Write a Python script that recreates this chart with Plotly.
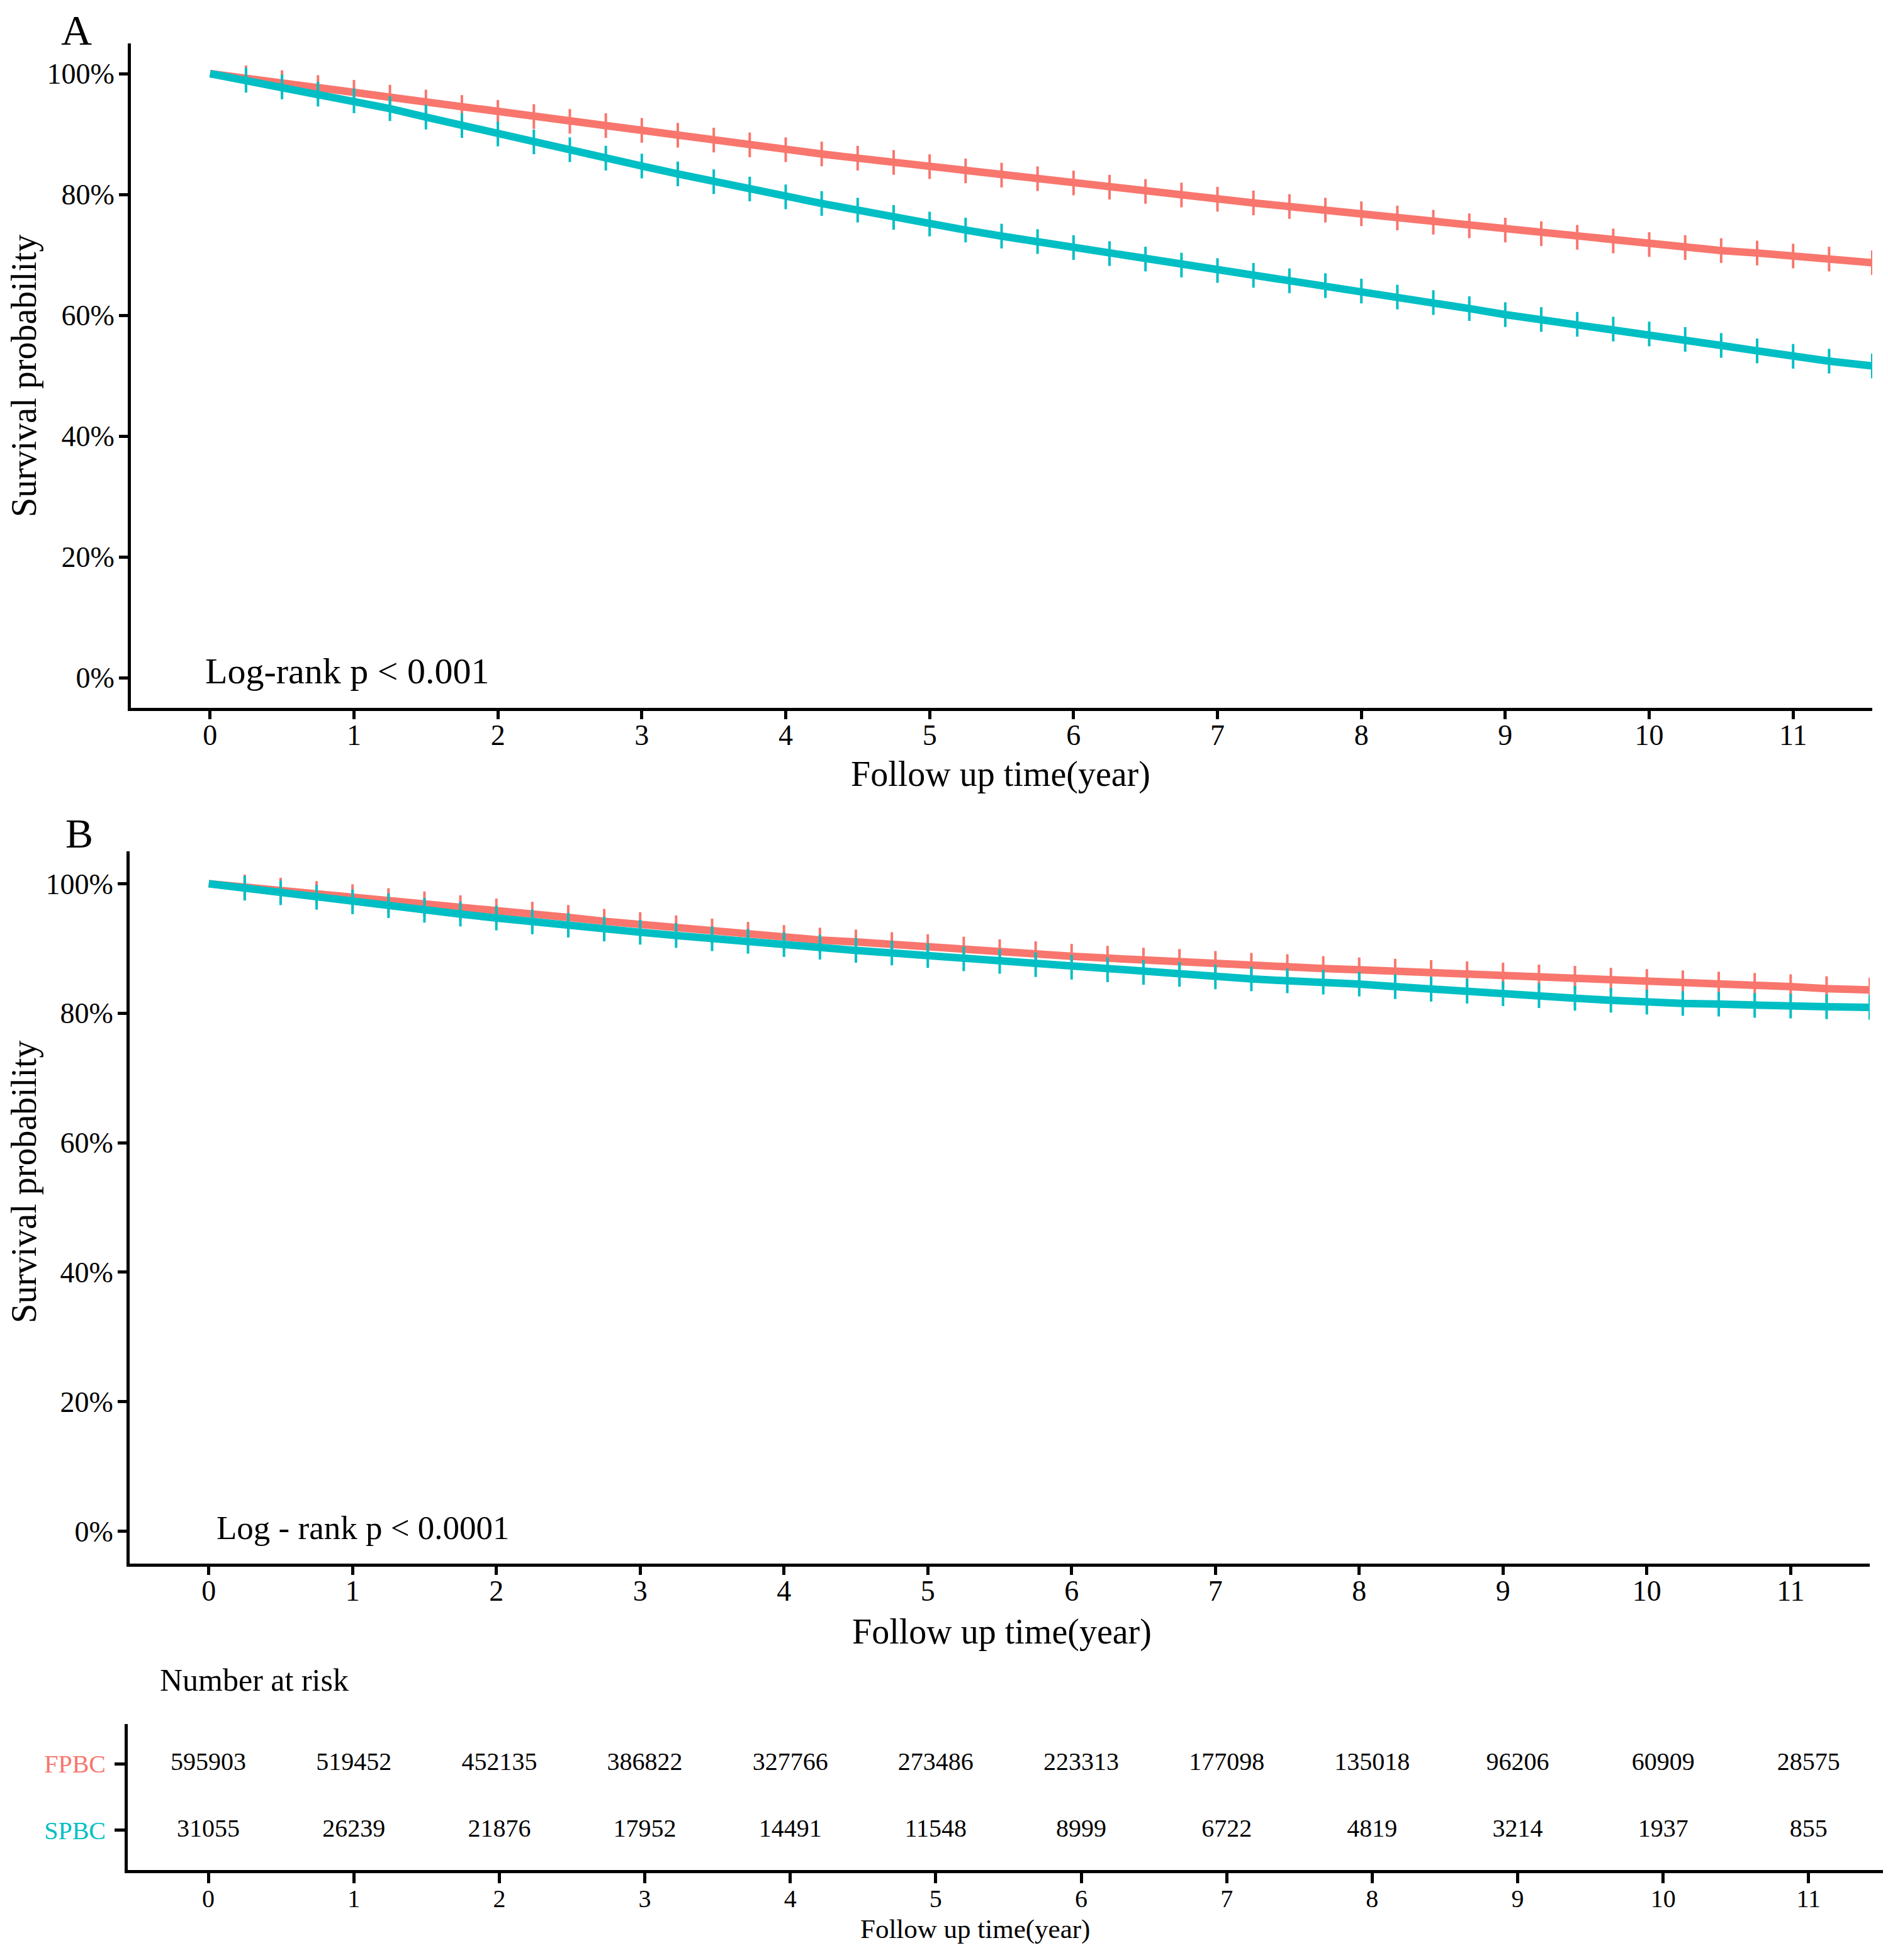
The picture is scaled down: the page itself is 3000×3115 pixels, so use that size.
import plotly.graph_objects as go

# ---------------- data ----------------
times = [0, 0.25, 0.5, 0.75, 1, 1.25, 1.5, 1.75, 2, 2.25, 2.5, 2.75, 3, 3.25, 3.5, 3.75,
         4, 4.25, 4.5, 4.75, 5, 5.25, 5.5, 5.75, 6, 6.25, 6.5, 6.75, 7, 7.25, 7.5, 7.75,
         8, 8.25, 8.5, 8.75, 9, 9.25, 9.5, 9.75, 10, 10.25, 10.5, 10.75, 11, 11.25, 11.55]

# Panel A (%)
a_fpbc = [100, 99.3, 98.5, 97.7, 96.9, 96.1, 95.3, 94.4, 93.6, 92.9, 92.1, 91.4, 90.6, 89.8, 89.0, 88.2,
          87.4, 86.7, 86.0, 85.3, 84.6, 83.9, 83.2, 82.6, 81.9, 81.2, 80.5, 79.9, 79.2, 78.6, 78.0, 77.4,
          76.8, 76.1, 75.4, 74.8, 74.1, 73.5, 72.9, 72.3, 71.7, 71.2, 70.7, 70.3, 69.8, 69.3, 68.7]
a_spbc = [100, 98.9, 97.8, 96.6, 95.5, 94.2, 92.8, 91.4, 90.0, 88.7, 87.4, 86.0, 84.7, 83.4, 82.1, 80.9,
          79.6, 78.5, 77.4, 76.2, 75.1, 74.1, 73.1, 72.2, 71.2, 70.2, 69.3, 68.3, 67.4, 66.6, 65.7, 64.9,
          64.0, 63.0, 62.1, 61.1, 60.1, 59.3, 58.5, 57.7, 56.9, 56.0, 55.0, 54.1, 53.2, 52.4, 51.6]

# Panel B (%)
b_fpbc = [100, 99.5, 99.0, 98.5, 98.0, 97.4, 96.9, 96.3, 95.8, 95.3, 94.8, 94.2, 93.7, 93.2, 92.7, 92.2,
          91.7, 91.3, 91.0, 90.6, 90.3, 89.9, 89.5, 89.2, 88.8, 88.5, 88.2, 88.0, 87.7, 87.4, 87.2, 86.9,
          86.7, 86.5, 86.3, 86.1, 85.9, 85.6, 85.4, 85.1, 84.9, 84.7, 84.5, 84.3, 84.1, 83.8, 83.6]
b_spbc = [100, 99.3, 98.6, 97.9, 97.2, 96.6, 95.9, 95.3, 94.7, 94.1, 93.6, 93.0, 92.5, 92.0, 91.5, 91.1,
          90.6, 90.2, 89.7, 89.3, 88.9, 88.4, 88.0, 87.5, 87.1, 86.7, 86.3, 86.0, 85.6, 85.3, 85.0, 84.8,
          84.5, 84.1, 83.7, 83.4, 83.0, 82.7, 82.3, 82.0, 81.7, 81.5, 81.4, 81.2, 81.1, 81.0, 80.9]

year_ticks = [0, 1, 2, 3, 4, 5, 6, 7, 8, 9, 10, 11]
pct_ticks = [0, 20, 40, 60, 80, 100]
pct_labels = ["0%", "20%", "40%", "60%", "80%", "100%"]

risk_fpbc = [595903, 519452, 452135, 386822, 327766, 273486, 223313, 177098, 135018, 96206, 60909, 28575]
risk_spbc = [31055, 26239, 21876, 17952, 14491, 11548, 8999, 6722, 4819, 3214, 1937, 855]

groups = ["FPBC", "SPBC"]
RED = "#F8766D"
TEAL = "#00BFC4"

FONT = "Liberation Serif"
W, H = 3000, 3115
OFF = 8  # page body margin


def px(x):
    return (x - OFF) / W


def py(y):
    return 1 - (y - OFF) / H


fig = go.Figure()


def add_curve(x, y, color, xa, ya, name):
    fig.add_trace(go.Scatter(x=x, y=y, mode="lines", line=dict(color=color, width=12),
                             xaxis=xa, yaxis=ya, name=name, showlegend=False))
    fig.add_trace(go.Scatter(x=x[1:], y=y[1:], mode="markers",
                             marker=dict(symbol="line-ns", size=28,
                                         line=dict(color=color, width=4)),
                             xaxis=xa, yaxis=ya, showlegend=False))


add_curve(times, a_fpbc, RED, "x", "y", groups[0])
add_curve(times, a_spbc, TEAL, "x", "y", groups[1])
add_curve(times, b_fpbc, RED, "x2", "y2", groups[0])
add_curve(times, b_spbc, TEAL, "x2", "y2", groups[1])

# risk table
fig.add_trace(go.Scatter(x=year_ticks, y=[2] * len(year_ticks), mode="text",
                         text=[str(v) for v in risk_fpbc],
                         textfont=dict(family=FONT, size=40, color="black"),
                         xaxis="x3", yaxis="y3", showlegend=False))
fig.add_trace(go.Scatter(x=year_ticks, y=[1] * len(year_ticks), mode="text",
                         text=[str(v) for v in risk_spbc],
                         textfont=dict(family=FONT, size=40, color="black"),
                         xaxis="x3", yaxis="y3", showlegend=False))

axis_common = dict(showline=True, linecolor="black", linewidth=5, ticks="outside",
                   tickcolor="black", tickwidth=5, showgrid=False, zeroline=False,
                   tickfont=dict(family=FONT, size=46, color="black"))

layout = dict(
    width=W, height=H, margin=dict(l=0, r=0, t=0, b=0),
    paper_bgcolor="white", plot_bgcolor="white", showlegend=False,
    xaxis=dict(axis_common, domain=[px(208), px(2975)], range=[-0.55, 11.55],
               tickvals=year_ticks, ticklen=13, anchor="y", ticklabelstandoff=-14),
    yaxis=dict(axis_common, domain=[py(1125), py(69)], range=[-5, 105],
               tickvals=pct_ticks, ticktext=pct_labels, ticklen=14, anchor="x",
               ticklabelstandoff=-2),
    xaxis2=dict(axis_common, domain=[px(206), px(2971)], range=[-0.55, 11.55],
                tickvals=year_ticks, ticklen=13, anchor="y2", ticklabelstandoff=-14),
    yaxis2=dict(axis_common, domain=[py(2485), py(1353)], range=[-5, 105],
                tickvals=pct_ticks, ticktext=pct_labels, ticklen=14, anchor="x2",
                ticklabelstandoff=-2),
    xaxis3=dict(axis_common, domain=[px(203), px(2994)], range=[-0.554, 11.52],
                tickvals=year_ticks, ticklen=16, anchor="y3", ticklabelstandoff=-10,
                tickfont=dict(family=FONT, size=40, color="black")),
    yaxis3=dict(axis_common, domain=[py(2972), py(2740)], range=[0.4, 2.6],
                tickvals=[2, 1],
                ticktext=['<span style="color:%s">%s</span>' % (RED, groups[0]),
                          '<span style="color:%s">%s</span>' % (TEAL, groups[1])],
                ticklen=16, anchor="x3", ticklabelstandoff=6,
                tickfont=dict(family=FONT, size=40, color="black")),
)
fig.update_layout(**layout)


def ann(text, x, y, size, xanchor="center", yanchor="middle", angle=0):
    fig.add_annotation(text=text, x=px(x), y=py(y), xref="paper", yref="paper",
                       xanchor=xanchor, yanchor=yanchor, showarrow=False, textangle=angle,
                       font=dict(family=FONT, size=size, color="black"))


ann("A", 95, 48, 68, xanchor="left")
ann("B", 102, 1324, 66, xanchor="left")
ann("Log-rank p < 0.001", 324, 1066, 58, xanchor="left")
ann("Log - rank p < 0.0001", 342, 2428, 53, xanchor="left")
ann("Survival probability", 38, 597, 56, angle=-90)
ann("Survival probability", 38, 1878, 56, angle=-90)
ann("Follow up time(year)", 1590, 1230, 56)
ann("Follow up time(year)", 1592, 2593, 56)
ann("Number at risk", 252, 2670, 50, xanchor="left")
ann("Follow up time(year)", 1549, 3066, 43)

fig.write_html("out.html")
